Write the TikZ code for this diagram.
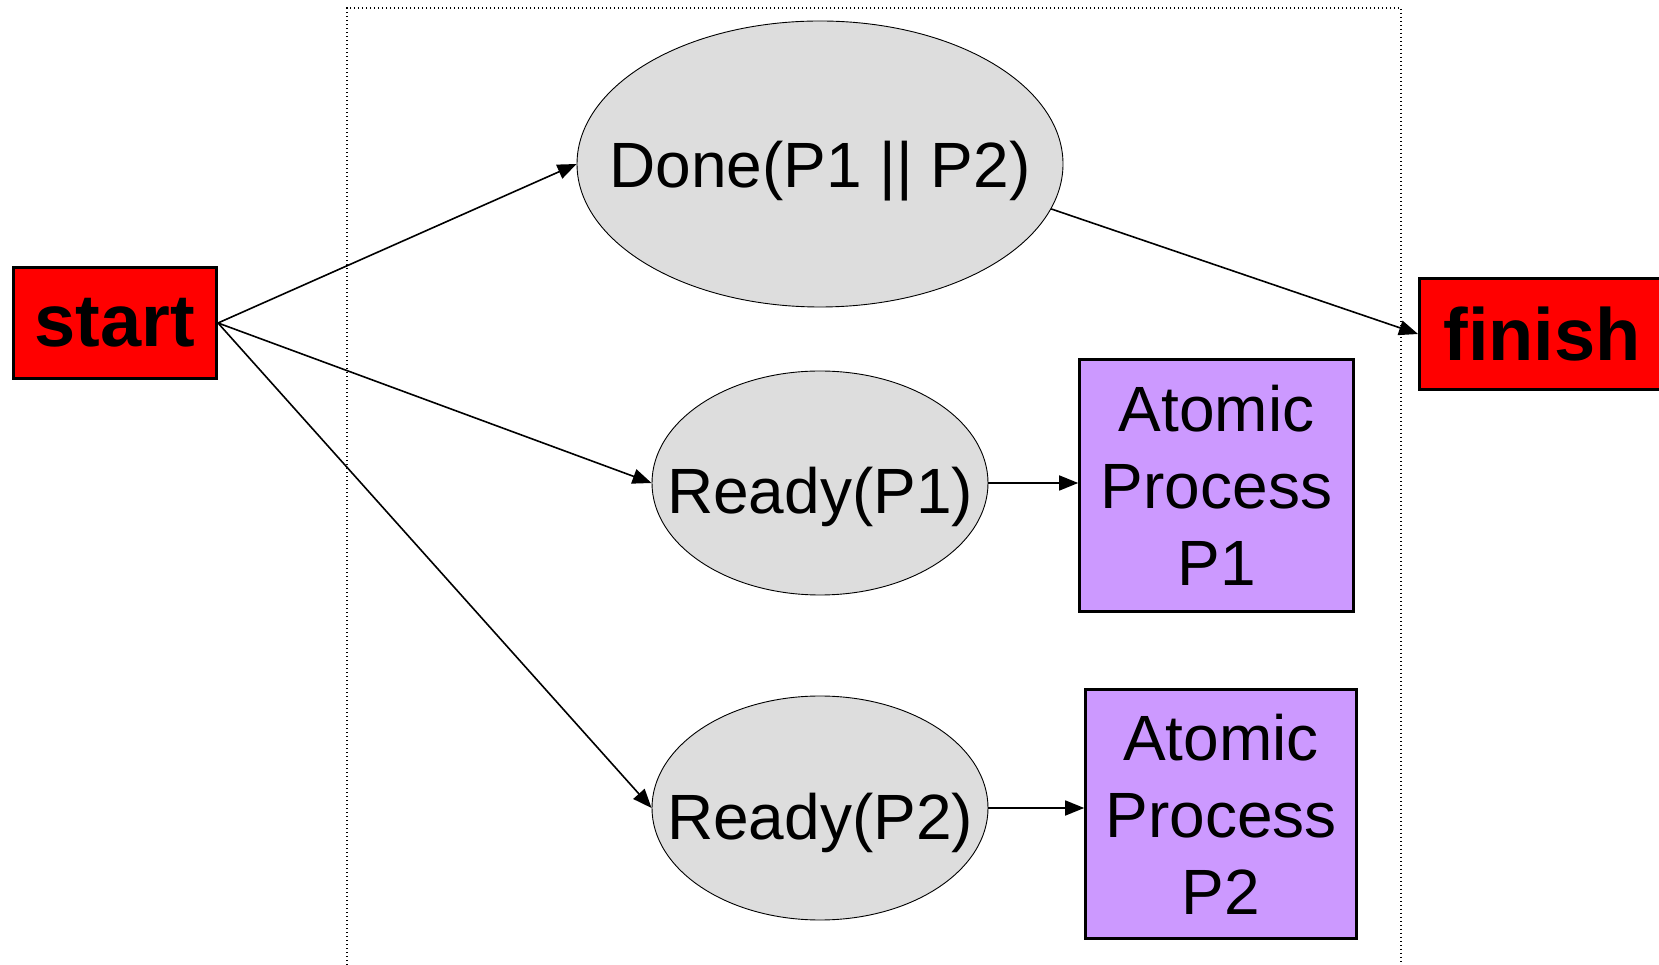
\documentclass[tikz,border=0pt]{standalone}
\usepackage{fontspec}
\setmainfont{Liberation Sans}
\usetikzlibrary{shapes.geometric,arrows.meta}
\definecolor{termred}{HTML}{FF0000}
\definecolor{stategray}{HTML}{DDDDDD}
\definecolor{procpurple}{HTML}{CC99FF}
% state labels are set in an empty box so the ellipse keeps its given size;
% the optional argument lowers the baseline below the centre
\newcommand{\statelabel}[2][31pt]{\raisebox{-#1}[0pt][0pt]{\makebox[0pt]{#2}}}
\begin{document}
\begin{tikzpicture}[x=1pt,y=1pt,
  terminal/.style={draw=black, line width=3pt, fill=termred, rectangle, inner sep=0pt,
    font=\fontsize{74}{80}\selectfont\bfseries},
  state/.style={draw=black, line width=0.9pt, fill=stategray, ellipse, inner sep=0pt,
    font=\fontsize{64}{77}\selectfont},
  proc/.style={draw=black, line width=2.6pt, fill=procpurple, rectangle, inner sep=0pt,
    align=center, font=\fontsize{64}{77}\selectfont},
  flow/.style={line width=1.6pt, -{Triangle[length=19pt,width=15pt]}}]
\useasboundingbox (0,0) rectangle (1659,964);
% composite boundary
\draw[line width=1.2pt, dash pattern=on 1.3pt off 2.7pt] (347,-1.2) rectangle (1401,956);
% terminals
\node[terminal, minimum width=203, minimum height=111] (start) at (115,641) {start};
\node[terminal, minimum width=245, minimum height=111] (finish) at (1542,630) {finish};
% states
\node[state, minimum width=486, minimum height=286] (done) at (820,800) {\statelabel[24pt]{Done(P1 || P2)}};
\node[state, minimum width=336, minimum height=224] (r1) at (820,481) {\statelabel{Ready(P1)}};
\node[state, minimum width=336, minimum height=224] (r2) at (820,156) {\statelabel{Ready(P2)}};
% atomic processes
\node[proc, minimum width=274, minimum height=252] (a1) at (1216.5,478.5) {Atomic\\Process\\P1};
\node[proc, minimum width=271, minimum height=249] (a2) at (1221,150) {Atomic\\Process\\P2};
% connectors
\draw[flow] (start.east) -- (done.west);
\draw[flow] (start.east) -- (r1.west);
\draw[flow] (start.east) -- (r2.west);
\draw[flow] (done.-11) -- (finish.west);
\draw[flow] (r1.east) -- (r1.east -| a1.west);
\draw[flow] (r2.east) -- (r2.east -| a2.west);
\end{tikzpicture}
\end{document}
